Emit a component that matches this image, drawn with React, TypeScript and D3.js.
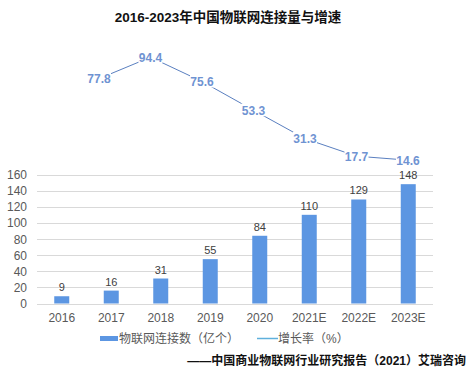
import React from "react";
import * as d3 from "d3";

const categories = ["2016", "2017", "2018", "2019", "2020", "2021E", "2022E", "2023E"];
const connections = [9, 16, 31, 55, 84, 110, 129, 148];
const growthCategories = ["2017", "2018", "2019", "2020", "2021E", "2022E", "2023E"];
const growth = [77.8, 94.4, 75.6, 53.3, 31.3, 17.7, 14.6];
const yTicks = [0, 20, 40, 60, 80, 100, 120, 140, 160];

const W = 475, H = 379;
const font = "Arial, 'Liberation Sans', 'Noto Sans CJK SC', sans-serif";

export default function App() {
  const xc = d3.scaleBand<string>().domain(categories).range([37, 433]);
  const y = d3.scaleLinear().domain([0, 160]).range([303.5, 174.5]);
  const xl = d3.scalePoint<string>().domain(growthCategories).range([99, 408]);
  const yl = d3.scaleLinear().domain([0, 100]).range([179, 50]);
  const line = d3.line<number>().x((_, i) => xl(growthCategories[i])!).y((d) => yl(d));
  const bw = 15;

  return (
    <svg width={W} height={H} style={{ position: "absolute", left: 0, top: 0, background: "#fff" }} fontFamily={font}>
      <text x={228} y={22} textAnchor="middle" fontSize={13.5} fontWeight="bold" fill="#111">2016-2023年中国物联网连接量与增速</text>
      {yTicks.map((t) => (
        <g key={t}>
          <line x1={37} x2={433} y1={Math.round(y(t)) + 0.5} y2={Math.round(y(t)) + 0.5} stroke="#d9d9d9" strokeWidth={1} />
          <text x={27} y={y(t) + 4.5} textAnchor="end" fontSize={12} fill="#595959">{t}</text>
        </g>
      ))}
      {categories.map((c, i) => {
        const cx = xc(c)! + xc.bandwidth() / 2;
        return (
          <g key={c}>
            <rect x={cx - bw / 2} y={y(connections[i])} width={bw} height={y(0) - y(connections[i])} fill="#5c96e2" />
            <text x={cx} y={y(connections[i]) - 5} textAnchor="middle" fontSize={11} fill="#404040">{connections[i]}</text>
            <text x={cx} y={322} textAnchor="middle" fontSize={12} fill="#595959">{c}</text>
          </g>
        );
      })}
      <path d={line(growth)!} fill="none" stroke="#5a7fc0" strokeWidth={1} />
      {growth.map((v, i) => {
        const px = xl(growthCategories[i])!;
        const py = yl(v);
        return (
          <g key={i}>
            <rect x={px - 12} y={py - 7} width={24} height={13} fill="#fff" />
            <text x={px} y={py + 4.5} textAnchor="middle" fontSize={12} fontWeight="bold" fill="#6f93d2">{v.toFixed(1)}</text>
          </g>
        );
      })}
      <rect x={100} y={336} width={18} height={5} fill="#5c96e2" />
      <text x={119} y={343} fontSize={12} fill="#595959">物联网连接数（亿个）</text>
      <line x1={257} x2={278} y1={338.5} y2={338.5} stroke="#5fb0dc" strokeWidth={1.5} />
      <text x={278} y={343} fontSize={12} fill="#595959">增长率（%）</text>
      <text x={466} y={365} textAnchor="end" fontSize={12} fontWeight="bold" fill="#111">——中国商业物联网行业研究报告（2021）艾瑞咨询</text>
    </svg>
  );
}
